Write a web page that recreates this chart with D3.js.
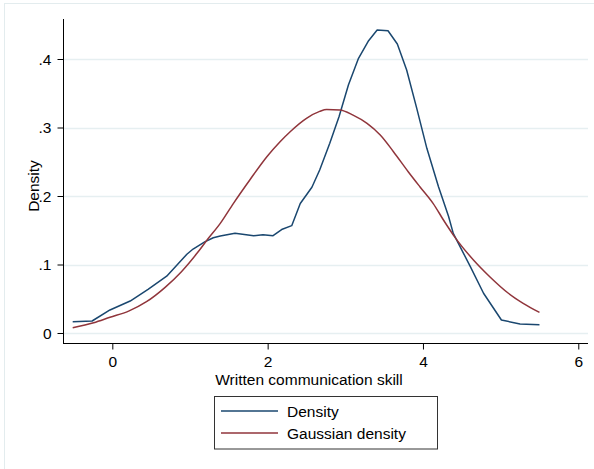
<!DOCTYPE html>
<html>
<head>
<meta charset="utf-8">
<script src="https://cdn.jsdelivr.net/npm/d3@7"></script>
<style>
  body { margin: 0; background: #fff; }
  text { font-family: "Liberation Sans", Arial, Helvetica, sans-serif; }
</style>
</head>
<body>
<script>
// kernel density
var densX = [-0.51, -0.26, -0.03, 0.23, 0.46, 0.70, 0.83, 0.96, 1.04, 1.19, 1.30, 1.39, 1.58, 1.82, 1.94, 2.07, 2.18, 2.31, 2.42, 2.57, 2.67, 2.80, 2.92, 3.04, 3.17, 3.30, 3.41, 3.55, 3.67, 3.79, 3.92, 4.05, 4.20, 4.33, 4.39, 4.61, 4.78, 5.01, 5.25, 5.50];
var densY = [.0165, .0175, .0336, .0467, .0638, .083, .099, .115, .1226, .133, .139, .1416, .1455, .142, .1436, .142, .151, .1567, .189, .2127, .238, .277, .316, .362, .401, .4267, .4423, .4413, .4219, .384, .328, .2696, .2136, .170, .1455, .0968, .058, .019, .0131, .0121];

// normal density
var gaussX = [-0.51, -0.24, -0.03, 0.21, 0.44, 0.68, 0.89, 1.09, 1.22, 1.39, 1.56, 1.77, 1.99, 2.16, 2.29, 2.50, 2.67, 2.76, 2.93, 3.10, 3.28, 3.45, 3.62, 3.81, 3.96, 4.13, 4.28, 4.41, 4.65, 4.86, 5.10, 5.29, 5.50];
var gaussY = [.0077, .015, .023, .032, .0457, .0667, .0895, .1163, .1358, .160, .1893, .2234, .2574, .2793, .2939, .3134, .3235, .3262, .3255, .318, .306, .289, .2647, .2355, .2136, .1893, .162, .140, .1066, .0822, .058, .0433, .030];

var xTicks = [0, 2, 4, 6];
var yTicks = [0, .1, .2, .3, .4];
var yTickLabels = ["0", ".1", ".2", ".3", ".4"];
var seriesNames = ["Density", "Gaussian density"];
var colors = ["#1a476f", "#90353b"];

var width = 594, height = 469;
var fs = 15.5;

var svg = d3.select("body").append("svg")
  .attr("width", width)
  .attr("height", height);

// faint outer frame
svg.append("rect")
  .attr("x", 4.5).attr("y", 3.5)
  .attr("width", 640).attr("height", 520)
  .attr("fill", "none")
  .attr("stroke", "#e3ecee");

var x = d3.scaleLinear().domain([-0.635, 6.125]).range([63, 588]);
var y = d3.scaleLinear().domain([-0.0146, 0.4584]).range([343, 19]);

// gridlines
svg.append("g").selectAll("line")
  .data(yTicks)
  .enter().append("line")
  .attr("x1", 63).attr("x2", 588)
  .attr("y1", function(d) { return Math.round(y(d)) + 0.5; })
  .attr("y2", function(d) { return Math.round(y(d)) + 0.5; })
  .attr("stroke", "#e6eff1")
  .attr("stroke-width", 1.5);

// y axis
var yAxis = svg.append("g")
  .attr("transform", "translate(63.5,0)")
  .call(d3.axisLeft(y).tickValues(yTicks).tickSize(6)
    .tickFormat(function(d, i) { return yTickLabels[i]; }));
yAxis.select(".domain").attr("d", "M0," + y.range()[0] + "V" + y.range()[1]).attr("stroke", "#000");
yAxis.selectAll(".tick line").attr("stroke", "#000");
yAxis.selectAll(".tick text")
  .attr("x", -12).attr("dy", "0.35em")
  .style("font-size", fs + "px").attr("fill", "#000")
  .attr("font-family", null);

// x axis
var xAxis = svg.append("g")
  .attr("transform", "translate(0,343.5)")
  .call(d3.axisBottom(x).tickValues(xTicks).tickSize(6).tickFormat(d3.format("d")));
xAxis.select(".domain").attr("d", "M" + x.range()[0] + ",0H" + x.range()[1]).attr("stroke", "#000");
xAxis.selectAll(".tick line").attr("stroke", "#000");
xAxis.selectAll(".tick text")
  .attr("y", 23.5).attr("dy", null)
  .style("font-size", fs + "px").attr("fill", "#000")
  .attr("font-family", null);

// axis titles
svg.append("text")
  .attr("x", 309).attr("y", 385)
  .attr("text-anchor", "middle")
  .style("font-size", fs + "px")
  .text("Written communication skill");

svg.append("text")
  .attr("transform", "translate(38.5,186) rotate(-90)")
  .attr("text-anchor", "middle")
  .style("font-size", fs + "px")
  .text("Density");

// curves
var line = d3.line()
  .x(function(d) { return x(d[0]); })
  .y(function(d) { return y(d[1]); });
var smooth = d3.line()
  .x(function(d) { return x(d[0]); })
  .y(function(d) { return y(d[1]); })
  .curve(d3.curveMonotoneX);

var series = [d3.zip(densX, densY), d3.zip(gaussX, gaussY)];

svg.append("g").selectAll("path")
  .data(series)
  .enter().append("path")
  .attr("d", function(d, i) { return i == 1 ? smooth(d) : line(d); })
  .attr("fill", "none")
  .attr("stroke", function(d, i) { return colors[i]; })
  .attr("stroke-width", 1.5)
  .attr("stroke-linejoin", "round");

// legend
var lg = svg.append("g");
lg.append("rect")
  .attr("x", 214.5).attr("y", 396.5)
  .attr("width", 223).attr("height", 52.5)
  .attr("fill", "#fff")
  .attr("stroke", "#333");

var rows = lg.selectAll(".row")
  .data(seriesNames)
  .enter().append("g")
  .attr("class", "row")
  .attr("transform", function(d, i) { return "translate(0," + (411 + i * 22) + ")"; });

rows.append("line")
  .attr("x1", 221).attr("x2", 278)
  .attr("y1", 0).attr("y2", 0)
  .attr("stroke", function(d, i) { return colors[i]; })
  .attr("stroke-width", 1.5);

rows.append("text")
  .attr("x", 287).attr("y", 5.5)
  .style("font-size", fs + "px")
  .text(function(d) { return d; });
</script>
</body>
</html>
